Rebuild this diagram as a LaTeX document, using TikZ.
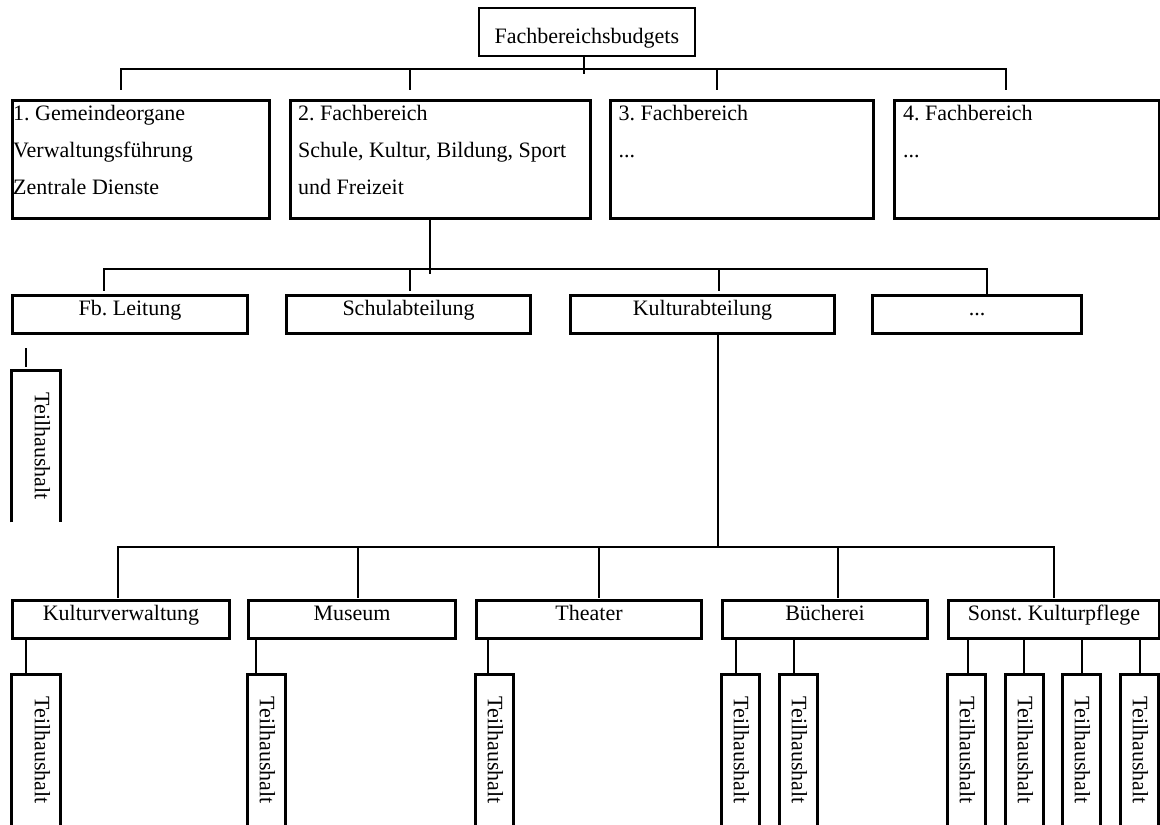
\documentclass[tikz,border=0pt]{standalone}
\usepackage{graphicx}
\usepackage{fontspec}
\setmainfont{Liberation Serif}
\usetikzlibrary{positioning}

\newcommand{\orgfont}{\fontsize{22}{37}\selectfont\frenchspacing}
\tikzset{
  conn/.style={line width=1.5pt, line cap=rect},
  topbox/.style={draw, line width=1.7pt, font=\orgfont, inner xsep=0pt, inner ysep=0pt,
                 text height=36pt, text depth=12pt, anchor=north west},
  areabox/.style={draw, line width=3pt, minimum height=118pt, anchor=north west},
  areatext/.style={font=\orgfont, align=left, inner sep=0pt},
  unitbox/.style={draw, line width=3pt, font=\orgfont, inner xsep=0pt, inner ysep=0pt,
                  text height=19.5pt, text depth=18.5pt, anchor=north west},
  subbox/.style={font=\orgfont, inner xsep=10pt, inner ysep=0pt, minimum height=152pt,
                 align=right, anchor=north west},
  subwide/.style={subbox, text width=29pt},
  subnarrow/.style={subbox, text width=18pt},
  subline/.style={line width=3pt}
}

\begin{document}
\begin{tikzpicture}[x=1pt, y=-1pt]
  \useasboundingbox (0,0) rectangle (1160,825);
  \clip (0,0) rectangle (1160,825);

  % top
  \node[topbox, minimum width=216pt] (fbb) at (478,7) {Fachbereichsbudgets};

  \node[areabox, minimum width=257pt] (fb1) at (11,99) {};
  \node[areabox, minimum width=300pt] (fb2) at (289,99) {};
  \node[areabox, minimum width=263pt] (fb3) at (609,99) {};
  \node[areabox, minimum width=265pt] (fb4) at (893,99) {};

  \node[areatext, below right=6pt and 2pt of fb1.north west] (fb1t) {1. Gemeindeorgane\\Verwaltungsführung\\Zentrale Dienste};
  \node[areatext, below right=6pt and 9pt of fb2.north west] (fb2t) {2. Fachbereich\\Schule, Kultur, Bildung, Sport\\und Freizeit};
  \node[areatext, below right=6pt and 9.5pt of fb3.north west] (fb3t) {3. Fachbereich\\...};
  \node[areatext, below right=6pt and 10pt of fb4.north west] (fb4t) {4. Fachbereich\\...};

  \coordinate (bus1a) at (121,69);
  \coordinate (bus1b) at (410,69);
  \coordinate (bus1c) at (717,69);
  \coordinate (bus1d) at (1006,69);
  \coordinate (bus1m) at (584,69);
  \draw[conn] (bus1a) -- (bus1d);
  \draw[conn, shorten >=-4pt] (fbb.south -| bus1m) -- (bus1m);
  \foreach \c/\n in {bus1a/fb1, bus1b/fb2, bus1c/fb3, bus1d/fb4}
    \draw[conn, shorten >=10pt] (\c) -- (\n.north -| \c);

  % second level
  \node[unitbox, minimum width=235pt] (fbl) at (11,294) {Fb. Leitung};
  \node[unitbox, minimum width=244pt] (schul) at (285,294) {Schulabteilung};
  \node[unitbox, minimum width=264pt] (kultur) at (569,294) {Kulturabteilung};
  \node[unitbox, minimum width=209pt] (more) at (871,294) {...};

  \coordinate (bus2a) at (104,269);
  \coordinate (bus2b) at (410,269);
  \coordinate (bus2c) at (719,269);
  \coordinate (bus2d) at (987,269);
  \coordinate (bus2m) at (430,269);
  \draw[conn] (bus2a) -- (bus2d);
  \draw[conn, shorten >=-4pt] (fb2.south -| bus2m) -- (bus2m);
  \foreach \c/\n in {bus2a/fbl, bus2b/schul, bus2c/kultur}
    \draw[conn, shorten >=4pt] (\c) -- (\n.north -| \c);
  \draw[conn] (bus2d) -- (more.north -| bus2d);

  \node[subwide] (th0) at (11,370) {\rotatebox{-90}{Teilhaushalt}};
  \draw[subline] (th0.south west) |- (th0.north east) -- (th0.south east);
  \coordinate (th0 tick) at (26,366);
  \draw[conn, shorten <=14pt] (fbl.south -| th0 tick) -- (th0 tick);

  % third level
  \node[unitbox, minimum width=217pt] (kv) at (11,599) {Kulturverwaltung};
  \node[unitbox, minimum width=207pt] (mus) at (247,599) {Museum};
  \node[unitbox, minimum width=225pt] (thea) at (475,599) {Theater};
  \node[unitbox, minimum width=205pt] (buch) at (721,599) {Bücherei};
  \node[unitbox, minimum width=211pt] (sonst) at (947,599) {Sonst. Kulturpflege};

  \coordinate (bus3a) at (118,547);
  \coordinate (bus3b) at (358,547);
  \coordinate (bus3c) at (599,547);
  \coordinate (bus3d) at (838,547);
  \coordinate (bus3e) at (1054,547);
  \coordinate (bus3m) at (718,547);
  \draw[conn] (bus3a) -- (bus3e);
  \draw[conn] (kultur.south -| bus3m) -- (bus3m);
  \foreach \c/\n in {bus3a/kv, bus3b/mus, bus3c/thea, bus3d/buch, bus3e/sonst}
    \draw[conn, shorten >=2pt] (\c) -- (\n.north -| \c);

  \foreach \n/\p/\x/\s/\tk in {th1/kv/11/subwide/26, th2/mus/247/subnarrow/256,
      th3/thea/475/subnarrow/488, th4/buch/721/subnarrow/736, th5/buch/779/subnarrow/794,
      th6/sonst/947/subnarrow/968, th7/sonst/1005/subnarrow/1024,
      th8/sonst/1062/subnarrow/1082, th9/sonst/1120/subnarrow/1140} {
    \node[\s] (\n) at (\x,674) {\rotatebox{-90}{Teilhaushalt}};
    \draw[subline] (\n.south west) |- (\n.north east) -- (\n.south east);
    \coordinate (\n tick) at (\tk,674);
    \draw[conn] (\p.south -| \n tick) -- (\n tick);
  }
\end{tikzpicture}
\end{document}
